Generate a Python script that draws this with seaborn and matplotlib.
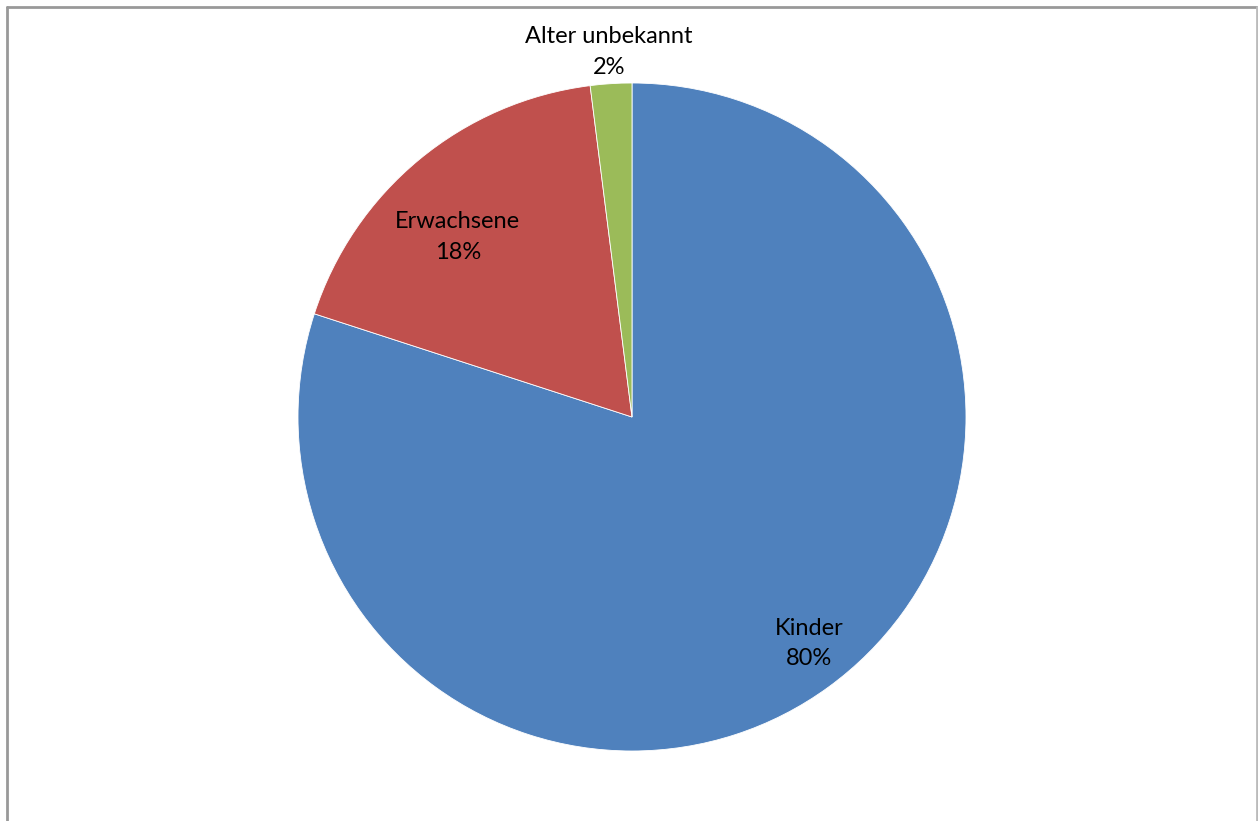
import matplotlib
matplotlib.use("Agg")
import matplotlib.pyplot as plt
import seaborn as sns
from matplotlib.lines import Line2D
import numpy as np

# Age groups and their shares (percent)
categories = ["Kinder", "Erwachsene", "Alter unbekannt"]
shares = [80, 18, 2]
colors = ["#4F81BD", "#C0504D", "#9BBB59"]

# label placement: radial distance and angular nudge (degrees) per wedge
label_dist = [0.86, 0.75, 1.095]
label_nudge = [2.0, 4.5, 0.0]

sns.set_theme(style="white")
plt.rcParams["font.family"] = ["Lato", "DejaVu Sans"]

W, H, DPI = 1258, 821, 100
fig = plt.figure(figsize=(W / DPI, H / DPI), dpi=DPI)
fig.patch.set_facecolor("white")
ax = fig.add_axes([0, 0, 1, 1])

R_PX = 334.0
cx, cy = 632.0, 821.0 - 417.0
ax.set_aspect("equal")
ax.axis("off")

wedges, _ = ax.pie(
    shares,
    colors=colors,
    startangle=90,
    counterclock=False,
    radius=1.0,
    wedgeprops=dict(edgecolor="white", linewidth=0.6),
)
ax.set_xlim(-cx / R_PX, (W - cx) / R_PX)
ax.set_ylim(-cy / R_PX, (H - cy) / R_PX)

for w, name, val, d, nudge in zip(wedges, categories, shares, label_dist, label_nudge):
    mid = np.deg2rad((w.theta1 + w.theta2) / 2.0 + nudge)
    ax.text(d * np.cos(mid), d * np.sin(mid), f"{name}\n{val}%",
            ha="center", va="center", fontsize=17, color="black",
            linespacing=1.55)

# outer chart frame
frame_kw = dict(color="#999999", linewidth=2.0, transform=fig.transFigure)
x0, x1 = 7.0 / W, 1256.5 / W
ytop = 1 - 7.0 / H
fig.add_artist(Line2D([x0, x0], [0, ytop], **frame_kw))
fig.add_artist(Line2D([x0, x1], [ytop, ytop], **frame_kw))
fig.add_artist(Line2D([x1, x1], [0, ytop], color="#bbbbbb", linewidth=2.0,
                      transform=fig.transFigure))

fig.savefig("out.png", dpi=DPI, facecolor="white")
